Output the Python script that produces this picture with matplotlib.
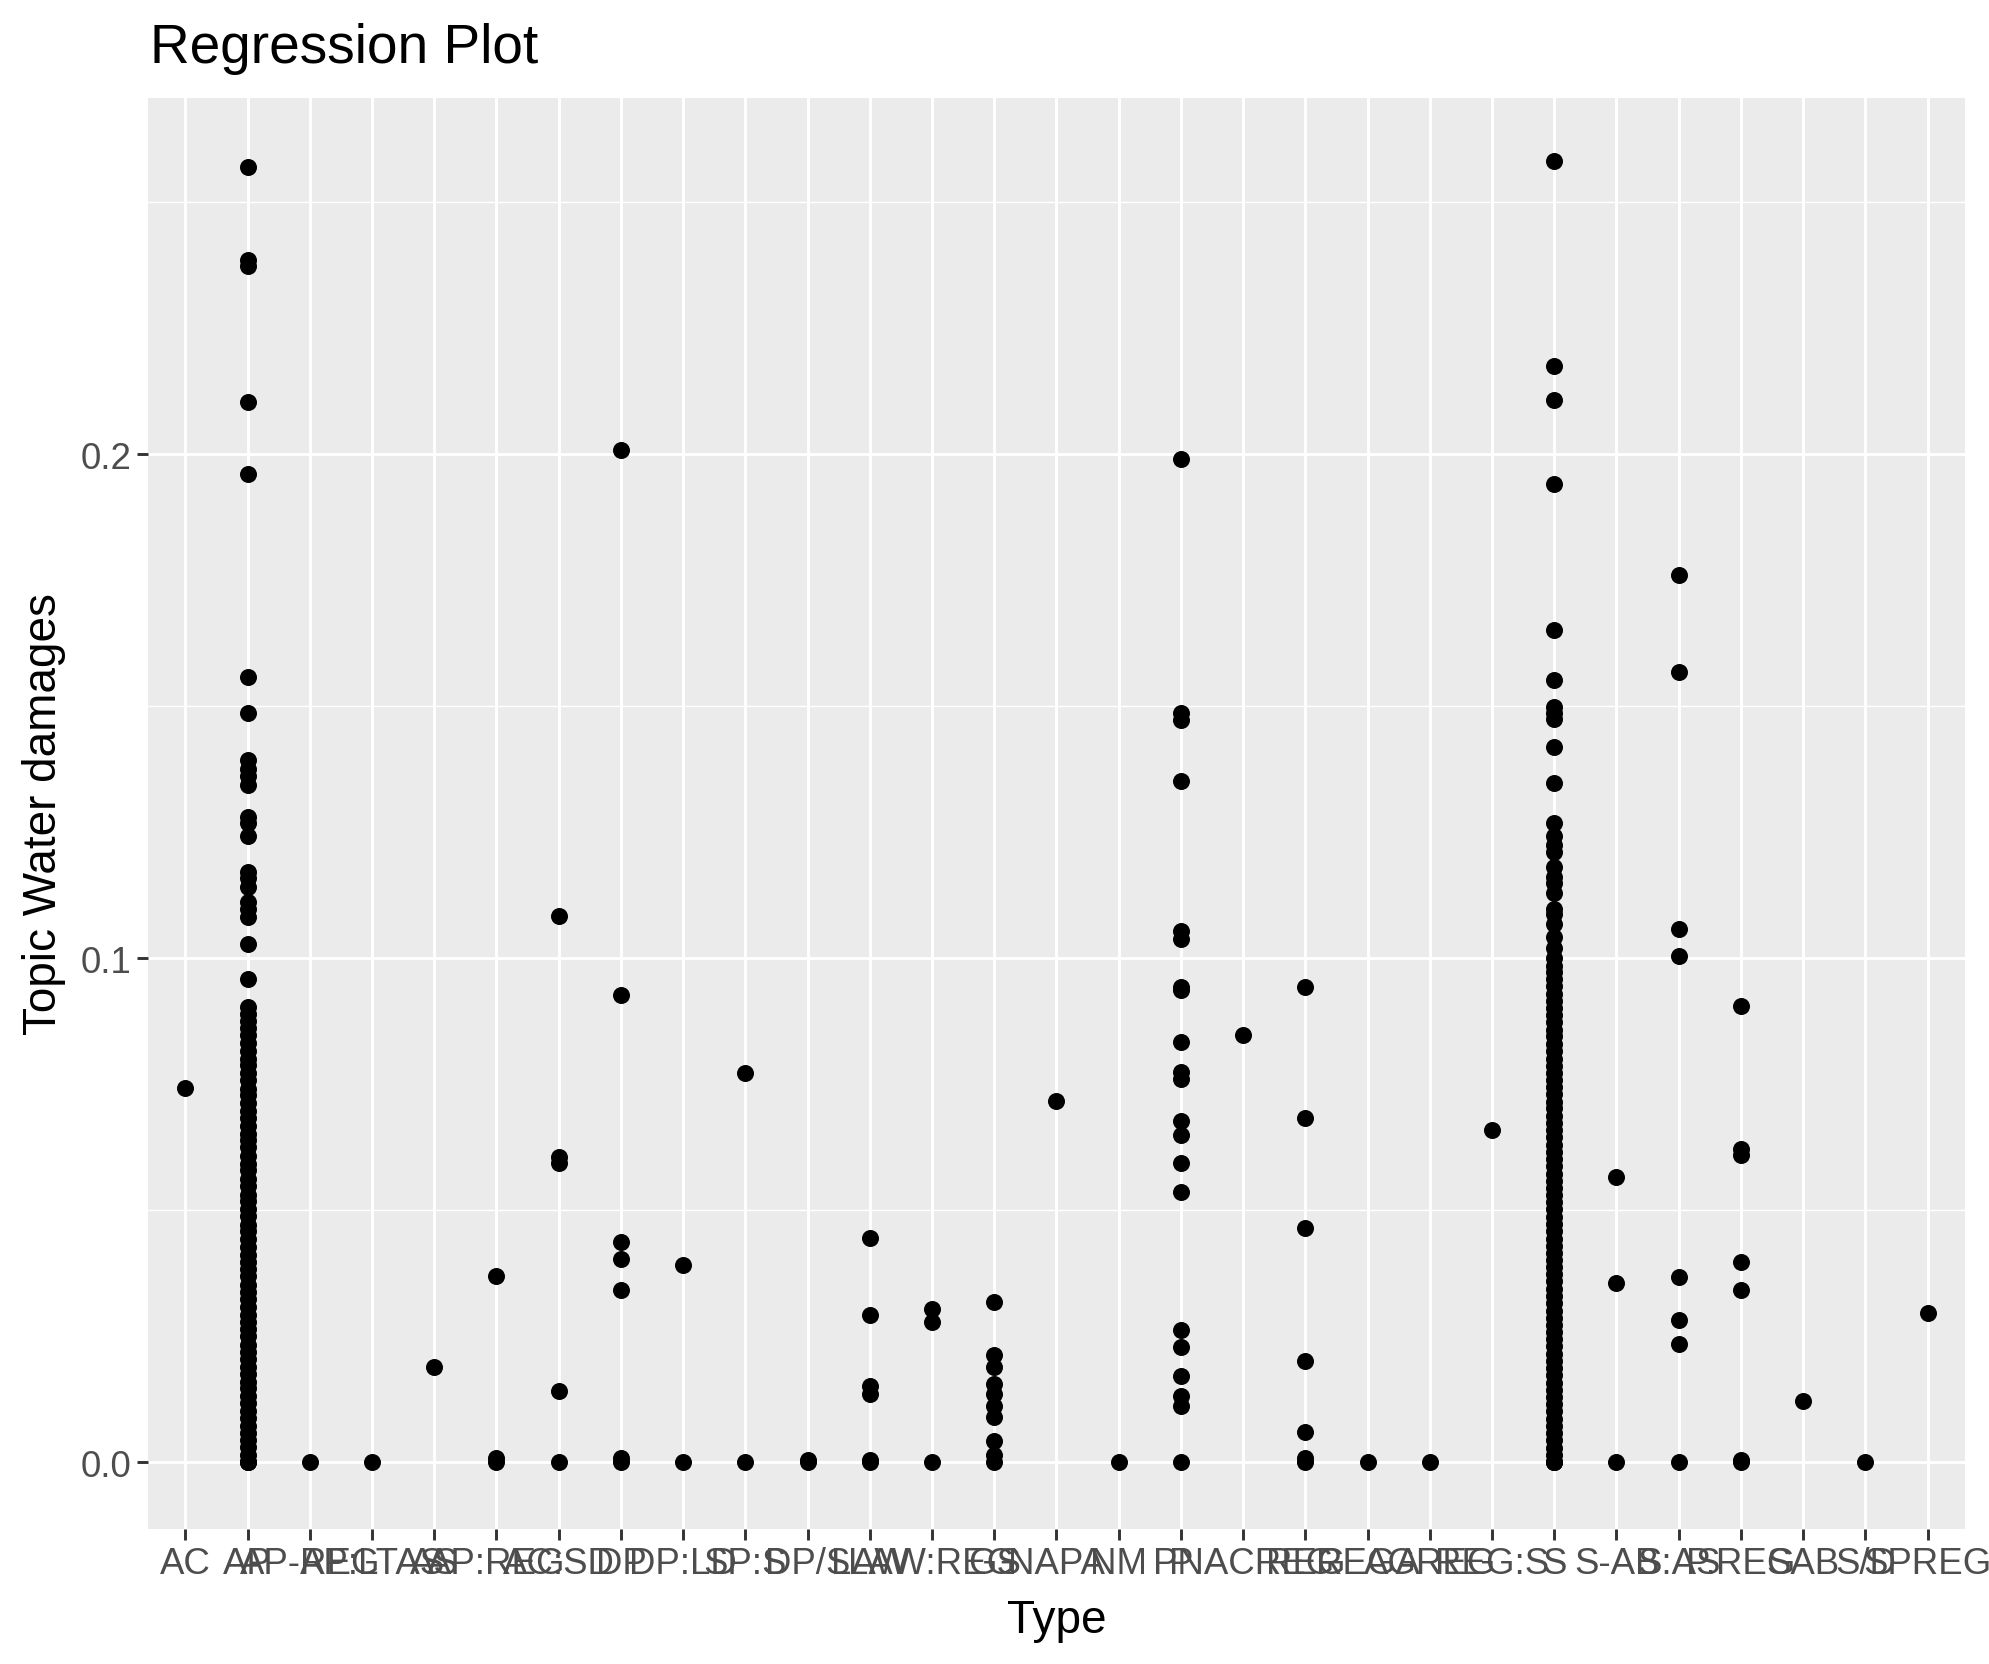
import matplotlib
matplotlib.use("Agg")
import matplotlib.pyplot as plt
from matplotlib.ticker import FixedLocator

plt.rcParams['font.family'] = ['Liberation Sans', 'DejaVu Sans']

types = ["AC", "AP", "AP-REG", "AP:LTAS", "AS", "AP:REG", "AC:SD", "DP", "DP:LD",
         "SP:S", "DP/S", "LAW", "LAW:REG", "GS", "NAPA", "NM", "P", "PNACREG",
         "REG", "REGA", "AGREG", "REG:S", "S", "S-AB", "S:AS", "P.REG", "SAB",
         "S/D", "SPREG"]

ac_vals = [0.0742]
ap_vals = [0.2569, 0.2385, 0.2372, 0.2103, 0.1960, 0.1557, 0.1487, 0.1394, 0.1376,
           0.1361, 0.1343, 0.1281, 0.1268, 0.1243, 0.1172, 0.1160, 0.1142, 0.1112,
           0.1097, 0.1082, 0.1029, 0.0958, 0.0903, 0.0890, 0.0875, 0.0862, 0.0848,
           0.0831, 0.0815, 0.0800, 0.0788, 0.0772, 0.0758, 0.0741, 0.0728, 0.0712,
           0.0697, 0.0683, 0.0668, 0.0652, 0.0640, 0.0625, 0.0608, 0.0592, 0.0580,
           0.0563, 0.0548, 0.0531, 0.0519, 0.0502, 0.0488, 0.0471, 0.0459, 0.0443,
           0.0428, 0.0412, 0.0398, 0.0383, 0.0369, 0.0352, 0.0338, 0.0324, 0.0309,
           0.0293, 0.0279, 0.0264, 0.0250, 0.0233, 0.0219, 0.0205, 0.0190, 0.0176,
           0.0160, 0.0147, 0.0131, 0.0118, 0.0102, 0.0088, 0.0073, 0.0059, 0.0044,
           0.0030, 0.0015, 0.0, 0.0, 0.0]
s_vals = [0.2581, 0.2174, 0.2108, 0.1940, 0.1650, 0.1552, 0.1499, 0.1487, 0.1474,
          0.1419, 0.1348, 0.1268, 0.1243, 0.1225, 0.1210, 0.1180, 0.1162, 0.1150,
          0.1130, 0.1097, 0.1087, 0.1068, 0.1042, 0.1021, 0.1001, 0.0985, 0.0972,
          0.0958, 0.0944, 0.0930, 0.0916, 0.0901, 0.0887, 0.0873, 0.0858, 0.0845,
          0.0829, 0.0816, 0.0801, 0.0787, 0.0772, 0.0759, 0.0744, 0.0730, 0.0715,
          0.0702, 0.0688, 0.0673, 0.0659, 0.0645, 0.0630, 0.0616, 0.0602, 0.0588,
          0.0573, 0.0559, 0.0545, 0.0530, 0.0516, 0.0502, 0.0487, 0.0473, 0.0459,
          0.0444, 0.0430, 0.0416, 0.0402, 0.0387, 0.0373, 0.0359, 0.0344, 0.0330,
          0.0316, 0.0301, 0.0287, 0.0273, 0.0259, 0.0244, 0.0230, 0.0216, 0.0201,
          0.0187, 0.0173, 0.0158, 0.0144, 0.0130, 0.0115, 0.0101, 0.0087, 0.0072,
          0.0058, 0.0044, 0.0029, 0.0015, 0.0, 0.0, 0.0]

type_values = [
    ac_vals,
    ap_vals,
    [0.0],
    [0.0],
    [0.0189],
    [0.0370, 0.0008, 0.0],
    [0.1084, 0.0606, 0.0594, 0.0141, 0.0],
    [0.2008, 0.0928, 0.0438, 0.0403, 0.0342, 0.0008, 0.0],
    [0.0392, 0.0],
    [0.0772, 0.0],
    [0.0005, 0.0],
    [0.0445, 0.0292, 0.0151, 0.0136, 0.0005, 0.0],
    [0.0304, 0.0279, 0.0],
    [0.0319, 0.0214, 0.0189, 0.0156, 0.0136, 0.0111, 0.0091, 0.0043, 0.0015, 0.0],
    [0.0717],
    [0.0],
    [0.1990, 0.1487, 0.1472, 0.1351, 0.1054, 0.1039, 0.0943, 0.0936, 0.0833, 0.0775,
     0.0760, 0.0677, 0.0649, 0.0594, 0.0536, 0.0262, 0.0229, 0.0171, 0.0131, 0.0111, 0.0],
    [0.0848],
    [0.0943, 0.0684, 0.0465, 0.0201, 0.0060, 0.0008, 0.0],
    [0.0],
    [0.0],
    [0.0659],
    s_vals,
    [0.0566, 0.0355, 0.0],
    [0.1761, 0.1567, 0.1057, 0.1004, 0.0367, 0.0282, 0.0234, 0.0],
    [0.0906, 0.0621, 0.0609, 0.0397, 0.0342, 0.0005, 0.0],
    [0.0121],
    [0.0],
    [0.0297],
]

fig = plt.figure(figsize=(19.9, 16.65), dpi=100)
ax = fig.add_axes([0.0744, 0.0811, 0.9874 - 0.0744, 0.9405 - 0.0811])
ax.set_facecolor("#EBEBEB")

for t, vals in zip(types, type_values):
    ax.scatter([t] * len(vals), vals, s=150, color="black", linewidths=0, zorder=3)

ax.set_xlim(-0.6, len(types) - 0.4)
ax.set_ylim(-0.0132, 0.2706)
ax.yaxis.set_major_locator(FixedLocator([0.0, 0.1, 0.2]))
ax.yaxis.set_minor_locator(FixedLocator([0.05, 0.15, 0.25]))
ax.set_yticklabels(["0.0", "0.1", "0.2"])

ax.grid(True, which="major", color="white", linewidth=2.1)
ax.grid(True, which="minor", axis="y", color="white", linewidth=1.05)
ax.set_axisbelow(True)
for sp in ax.spines.values():
    sp.set_visible(False)

ax.tick_params(which="major", length=8, width=2.1, color="#333333",
               labelcolor="#4D4D4D", labelsize=26.4, pad=4)
ax.tick_params(which="minor", length=0)

fig.text(0.0754, 1 - 63 / 1665, "Regression Plot", fontsize=39.6, ha="left", va="baseline")
fig.text((0.0744 + 0.9874) / 2, 1 - 1633 / 1665, "Type", fontsize=33, ha="center", va="baseline")
fig.text(44 / 1990, (0.0811 + 0.9405) / 2, "Topic Water damages", fontsize=33,
         rotation=90, ha="center", va="center")

fig.savefig("out.png", dpi=100, facecolor="white")
